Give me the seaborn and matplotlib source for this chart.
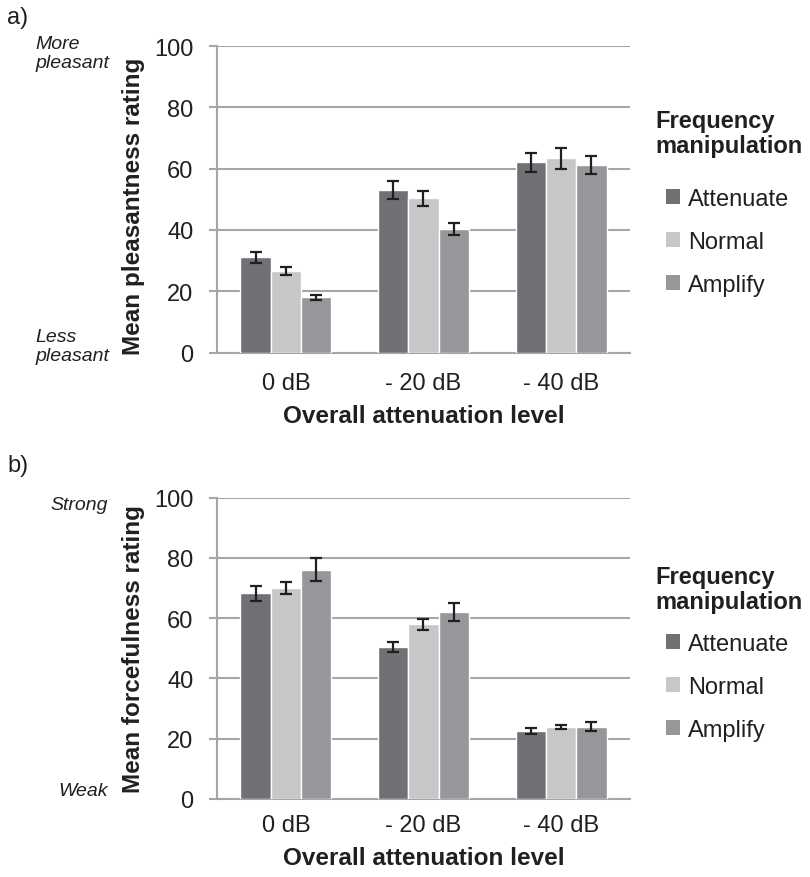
import pandas as pd
import matplotlib
matplotlib.use('Agg')
import matplotlib.pyplot as plt
from matplotlib.patches import Patch
import seaborn as sns

levels = ['0 dB', '- 20 dB', '- 40 dB']
manips = ['Attenuate', 'Normal', 'Amplify']
colors = ['#717175', '#c6c7c9', '#96979b']

# panel a: pleasantness
pleas_att = [31.0, 53.0, 62.0]
pleas_nor = [26.5, 50.3, 63.3]
pleas_amp = [18.0, 40.3, 61.3]
pleas_err_att = [1.8, 2.8, 3.0]
pleas_err_nor = [1.3, 2.4, 3.3]
pleas_err_amp = [0.8, 2.0, 2.9]

# panel b: forcefulness
force_att = [68.2, 50.4, 22.6]
force_nor = [70.1, 57.9, 24.0]
force_amp = [76.0, 62.0, 24.0]
force_err_att = [2.6, 1.7, 1.1]
force_err_nor = [2.0, 1.8, 0.7]
force_err_amp = [3.8, 3.1, 1.5]

sns.set_style('white')
plt.rcParams['font.family'] = ['Liberation Sans', 'DejaVu Sans']

GRID = '#a6a6a6'
INK = '#231f20'
FS = 17
W, H = 810.0, 878.0


def make_df(att, nor, amp, e_att, e_nor, e_amp):
    rows = []
    for vals, errs, m in [(att, e_att, 'Attenuate'), (nor, e_nor, 'Normal'), (amp, e_amp, 'Amplify')]:
        for lvl, v, e in zip(levels, vals, errs):
            rows.append({'level': lvl, 'manip': m, 'value': v, 'err': e})
    return pd.DataFrame(rows)


def panel(fig, rect, df, ylabel, ylab_y, xpad, top_txt, top_y, bot_txt, bot_y, side_ha,
          letter, letter_y, title_y, legend_y):
    ax = fig.add_axes(rect)
    sns.barplot(data=df, x='level', y='value', hue='manip', order=levels,
                hue_order=manips, palette=colors, saturation=1, width=0.66,
                errorbar=None, legend=False, ax=ax, zorder=3)
    for cont, m in zip(ax.containers, manips):
        sub = df[df.manip == m].set_index('level').loc[levels]
        xs = [p.get_x() + p.get_width() / 2 for p in cont.patches]
        ax.errorbar(xs, sub['value'], yerr=sub['err'], fmt='none', ecolor=INK,
                    elinewidth=1.6, capsize=4.5, capthick=1.6, zorder=4)
    ax.set_ylim(0, 100)
    ax.set_xlim(-0.5, 2.5)
    ax.set_yticks([0, 20, 40, 60, 80, 100])
    ax.yaxis.grid(True, color=GRID, lw=1.5, zorder=0)
    ax.set_axisbelow(True)
    for s in ['top', 'right']:
        ax.spines[s].set_visible(False)
    for s in ['left', 'bottom']:
        ax.spines[s].set_color(GRID)
        ax.spines[s].set_linewidth(1.5)
    ax.set_xticks([-0.5, 0.5, 1.5, 2.5], minor=True)
    ax.tick_params(axis='x', which='major', length=0, labelsize=FS, pad=xpad, colors=INK)
    ax.tick_params(axis='x', which='minor', length=6, width=1.5, color=GRID, direction='out')
    ax.tick_params(axis='y', length=6, width=1.5, color=GRID, labelsize=FS, pad=11,
                   labelcolor=INK, left=True)
    ax.set_xlabel('Overall attenuation level', fontsize=17.5, fontweight='bold',
                  labelpad=7, color=INK)
    ax.set_ylabel(ylabel, fontsize=17.5, fontweight='bold', color=INK)
    ax.yaxis.set_label_coords(-0.174, ylab_y)

    sx = 35 / W if side_ha == 'left' else 108 / W
    fig.text(sx, 1 - top_y / H, top_txt, style='italic', fontsize=14, va='center',
             ha=side_ha, color=INK, linespacing=1.13)
    fig.text(sx, 1 - bot_y / H, bot_txt, style='italic', fontsize=14, va='center',
             ha=side_ha, color=INK, linespacing=1.13)
    fig.text(7 / W, 1 - letter_y / H, letter, fontsize=FS, va='center', ha='left', color=INK)

    fig.text(655 / W, 1 - title_y / H, 'Frequency\nmanipulation', fontsize=FS,
             fontweight='bold', va='center', ha='left', color=INK, linespacing=1.15)
    handles = [Patch(facecolor=c, edgecolor='none') for c in colors]
    leg = ax.legend(handles, manips, loc='center left',
                    bbox_to_anchor=(666 / W, 1 - legend_y / H), bbox_transform=fig.transFigure,
                    frameon=False, fontsize=FS, handlelength=0.6, handleheight=0.6,
                    handletextpad=0.35, labelspacing=0.88, borderpad=0, borderaxespad=0)
    for t in leg.get_texts():
        t.set_color(INK)
    return ax


fig = plt.figure(figsize=(8.1, 8.78), dpi=100)
df_a = make_df(pleas_att, pleas_nor, pleas_amp, pleas_err_att, pleas_err_nor, pleas_err_amp)
df_b = make_df(force_att, force_nor, force_amp, force_err_att, force_err_nor, force_err_amp)

panel(fig, [217 / W, 1 - 353.5 / H, 413 / W, 306.5 / H], df_a,
      'Mean pleasantness rating', 0.48, 14, 'More\npleasant', 54, 'Less\npleasant', 347,
      'left', 'a)', 18, 134, 243)
panel(fig, [217 / W, 1 - 800 / H, 413 / W, 301.5 / H], df_b,
      'Mean forcefulness rating', 0.5, 11, 'Strong', 505, 'Weak', 792,
      'right', 'b)', 466, 590, 688)

fig.savefig('out.png', dpi=100)
